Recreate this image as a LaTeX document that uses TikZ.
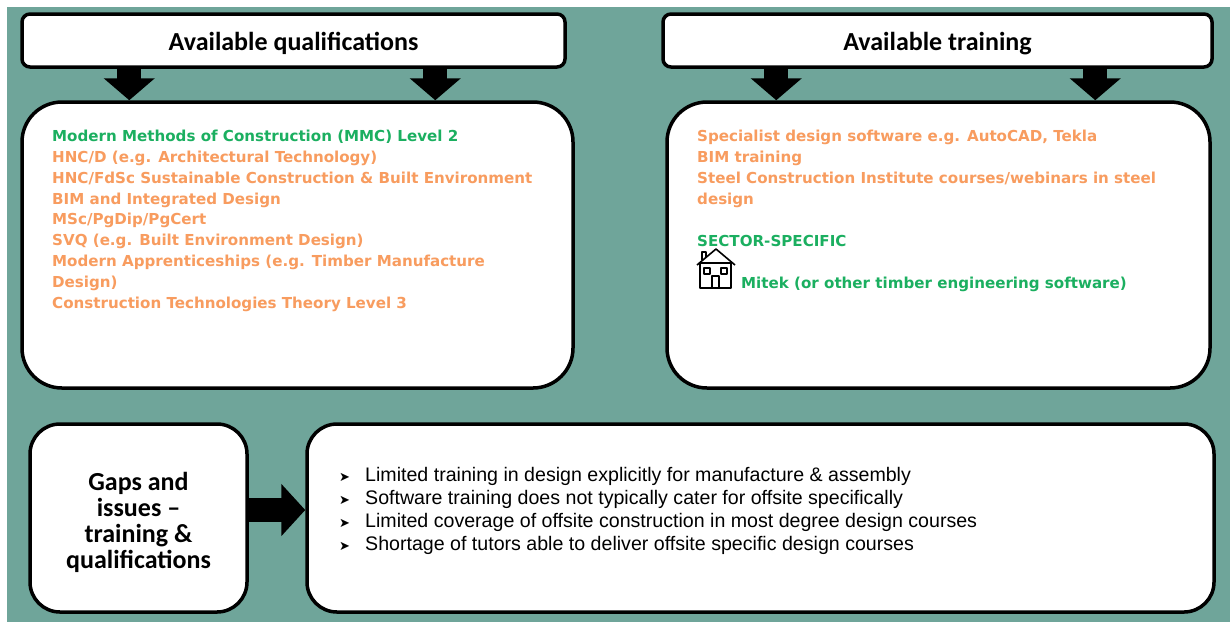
\documentclass[tikz,border=0pt]{standalone}
\usepackage{fontspec}
\setmainfont{Carlito}
\newfontfamily\listfont{DejaVu Sans}
\newfontfamily\gapsfont{Liberation Sans}
\usetikzlibrary{arrows.meta}

\definecolor{bgteal}{HTML}{6FA59A}
\definecolor{qualorange}{HTML}{F89C5F}
\definecolor{qualgreen}{HTML}{1BAF60}

\tikzset{
  headbox/.style={draw, line width=3.5pt, rounded corners=8pt, fill=white,
    minimum height=53pt, text height=19pt, text depth=0pt,
    font=\fontsize{26}{30}\selectfont\bfseries},
  listbox/.style={draw, line width=3.5pt, rounded corners=40pt, fill=white,
    minimum height=286pt},
  lowbox/.style={draw, line width=3.5pt, rounded corners=30pt, fill=white,
    minimum height=188pt},
  listtext/.style={inner sep=0pt, align=left, text=qualorange,
    font=\listfont\bfseries\fontsize{15.1}{20.8}\selectfont},
  blockdown/.style={line width=24pt, -{Triangle[width=50pt,length=22pt]}},
}
\newcommand{\issuemark}{\makebox[26pt][l]{\listfont\fontsize{13}{23}\selectfont ➤}}

\begin{document}
\begin{tikzpicture}[x=1pt, y=-1pt]
        % Sfondo
        \useasboundingbox (0,0) rectangle (1230,622);
        \fill[bgteal] (7,7) rectangle (1230,622);

        % Titoli
        \node[headbox, minimum width=543pt] (qtitle) at (293.5,40.5) {Available qualifications};
        \node[headbox, minimum width=549pt] (ttitle) at (937.5,40.5) {Available training};

        % Riquadri
        \node[listbox, minimum width=551pt] (qbox) at (297.5,245) {};
        \node[listbox, minimum width=543pt] (tbox) at (938.5,245) {};

        % Frecce in basso
        \draw[blockdown] ([xshift=109pt]qtitle.south west) -- ([xshift=109pt]qtitle.south west |- qbox.north);
        \draw[blockdown] ([xshift=415pt]qtitle.south west) -- ([xshift=415pt]qtitle.south west |- qbox.north);
        \draw[blockdown] ([xshift=115pt]ttitle.south west) -- ([xshift=115pt]ttitle.south west |- tbox.north);
        \draw[blockdown] ([xshift=434pt]ttitle.south west) -- ([xshift=434pt]ttitle.south west |- tbox.north);

        % Qualifiche
        \node[listtext, anchor=north west] (qlist) at (52,130) {%
          \textcolor{qualgreen}{Modern Methods of Construction (MMC) Level 2}\\
          HNC/D (e.g. Architectural Technology)\\
          HNC/FdSc Sustainable Construction \& Built Environment\\
          BIM and Integrated Design\\
          MSc/PgDip/PgCert\\
          SVQ (e.g. Built Environment Design)\\
          Modern Apprenticeships (e.g. Timber Manufacture\\
          Design)\\
          Construction Technologies Theory Level 3};

        % Formazione
        \node[listtext, anchor=north west] (tlist) at (697,130) {%
          Specialist design software e.g. AutoCAD, Tekla\\
          BIM training\\
          Steel Construction Institute courses/webinars in steel\\
          design};
        \node[listtext, anchor=north west, text=qualgreen] (sector) at (697,235.5) {SECTOR-SPECIFIC};
        \node[listtext, anchor=north west, text=qualgreen] (mitek) at (741,277) {Mitek (or other timber engineering software)};

        % Casetta
        \begin{scope}[line width=1.6pt, line join=round]
          \draw (697,265) -- (716,249) -- (735,265);
          \draw (702,260) -- (702,252) -- (706,252) -- (706,256.5);
          \draw (700,263) rectangle (731,288);
          \draw (704,268) rectangle (710,274);
          \draw (721,268) rectangle (727,274);
          \draw (712,288) -- (712,276) -- (719,276) -- (719,288);
        \end{scope}

        % Lacune
        \node[lowbox, minimum width=217pt] (gaps) at (138.5,518) {};
        \node[align=center, inner sep=0pt, font=\fontsize{26}{26}\selectfont\bfseries]
          (gapstext) at ([yshift=-4pt]gaps.center) {Gaps and\\issues --\\training \&\\qualifications};
        \node[lowbox, minimum width=907pt] (issues) at (760.5,518) {};
        \draw[line width=24pt, -{Triangle[width=51pt,length=24pt]}] (gaps.east |- 0,510) coordinate (gapsout) -- (issues.west |- gapsout);

        \node[inner sep=0pt, anchor=north west, align=left,
          font=\gapsfont\fontsize{19.6}{23}\selectfont] (issuelist) at (339,467) {%
          \issuemark Limited training in design explicitly for manufacture \& assembly\\
          \issuemark Software training does not typically cater for offsite specifically\\
          \issuemark Limited coverage of offsite construction in most degree design courses\\
          \issuemark Shortage of tutors able to deliver offsite specific design courses};

\end{tikzpicture}
\end{document}
